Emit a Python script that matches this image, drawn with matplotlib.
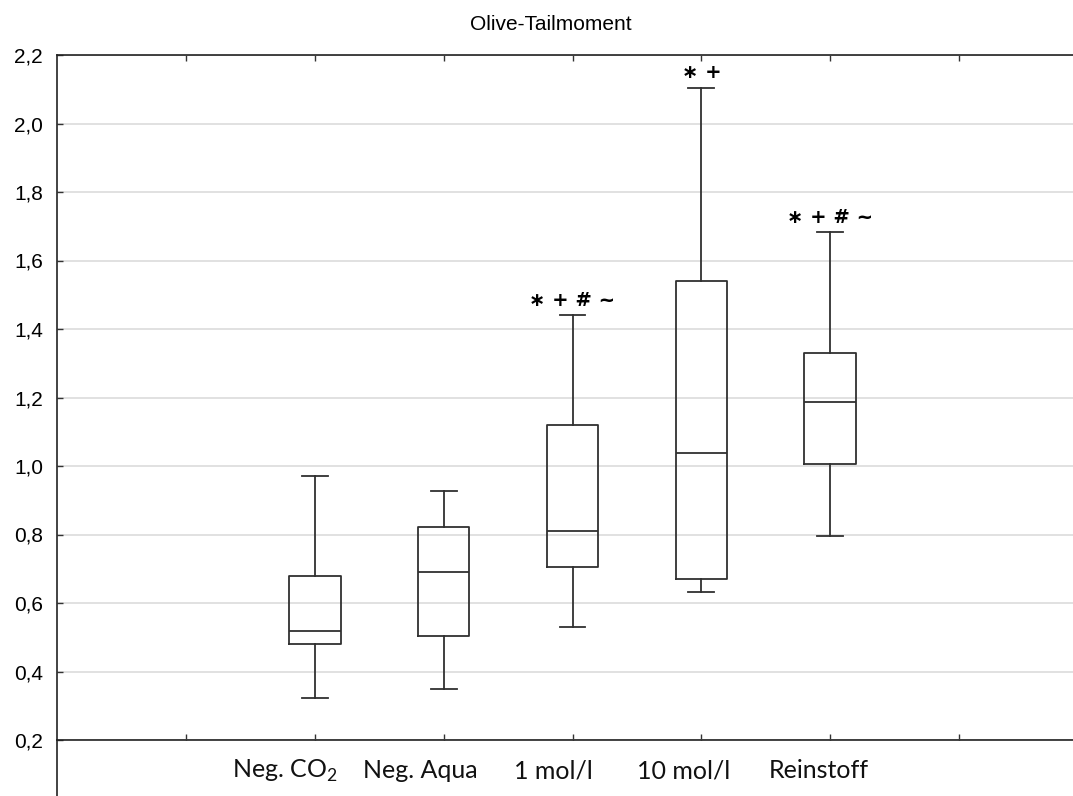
import numpy as np
import matplotlib
matplotlib.use("Agg")
import matplotlib.pyplot as plt

# data
groups = ["Neg. CO$_\\mathregular{2}$", "Neg. Aqua", "1 mol/l", "10 mol/l", "Reinstoff"]
positions = [2, 3, 4, 5, 6]
whisker_low = [0.323, 0.349, 0.530, 0.633, 0.796]
q1 = [0.479, 0.503, 0.706, 0.671, 1.007]
median = [0.518, 0.690, 0.811, 1.039, 1.188]
q3 = [0.680, 0.821, 1.121, 1.540, 1.329]
whisker_high = [0.972, 0.928, 1.440, 2.104, 1.682]
marks = ["", "", "\u2217 + # ~", "\u2217 +", "\u2217 + # ~"]

yticks = np.arange(0.2, 2.21, 0.2)
ytick_labels = [f"{v:.1f}".replace(".", ",") for v in yticks]

plt.rcParams["font.family"] = ["Liberation Sans", "DejaVu Sans"]
plt.rcParams["mathtext.fontset"] = "custom"
plt.rcParams["mathtext.rm"] = "Lato"

fig = plt.figure(figsize=(10.73, 7.96), dpi=100)
ax = fig.add_axes([57 / 1073, 1 - 740 / 796, 1031 / 1073, 685 / 796])

stats = []
for i in range(len(positions)):
    stats.append(dict(whislo=whisker_low[i], q1=q1[i], med=median[i],
                      q3=q3[i], whishi=whisker_high[i], fliers=[]))

line_col = "#303030"
ax.bxp(stats, positions=positions, widths=0.4, capwidths=0.2,
       showfliers=False, manage_ticks=False,
       boxprops=dict(color=line_col, lw=1.3),
       whiskerprops=dict(color=line_col, lw=1.3),
       capprops=dict(color=line_col, lw=1.3),
       medianprops=dict(color=line_col, lw=1.3))

# significance marks
for x, top, m in zip(positions, whisker_high, marks):
    if m:
        ax.annotate(m, (x, top), xytext=(0, 4), textcoords="offset points",
                    ha="center", va="bottom", fontsize=14, fontweight="bold",
                    family="DejaVu Sans", color="black")

ax.set_xlim(0, 8)
ax.set_ylim(0.2, 2.2)
ax.set_yticks(yticks)
ax.set_yticklabels(ytick_labels, fontsize=15)
ax.set_xticks(range(1, 8))
ax.set_xticklabels([])
ax.tick_params(axis="both", direction="in", length=4, width=1, color="#333333")
ax.tick_params(axis="x", top=True)
ax.tick_params(axis="y", pad=10)
ax.grid(axis="y", color="#dcdcdc", lw=1.2)
ax.set_axisbelow(True)
for s in ax.spines.values():
    s.set_color("#222222")
    s.set_linewidth(1.2)

# category labels below the axis, nudged left like the original
label_shift = [-0.23, -0.18, -0.15, -0.14, -0.09]
for x, dx, g in zip(positions, label_shift, groups):
    ax.text(x + dx, -0.045, g, transform=ax.get_xaxis_transform(),
            ha="center", va="center", fontsize=18, family="Lato", color="#111111")

# left axis line runs down past the x axis
fig.add_artist(plt.Line2D([57 / 1073, 57 / 1073], [0, 1 - 740 / 796],
                          color="#222222", lw=1.2))

fig.text(551 / 1073, 1 - 25 / 796, "Olive-Tailmoment", ha="center", va="center",
         fontsize=15)

fig.savefig("out.png", dpi=100)
